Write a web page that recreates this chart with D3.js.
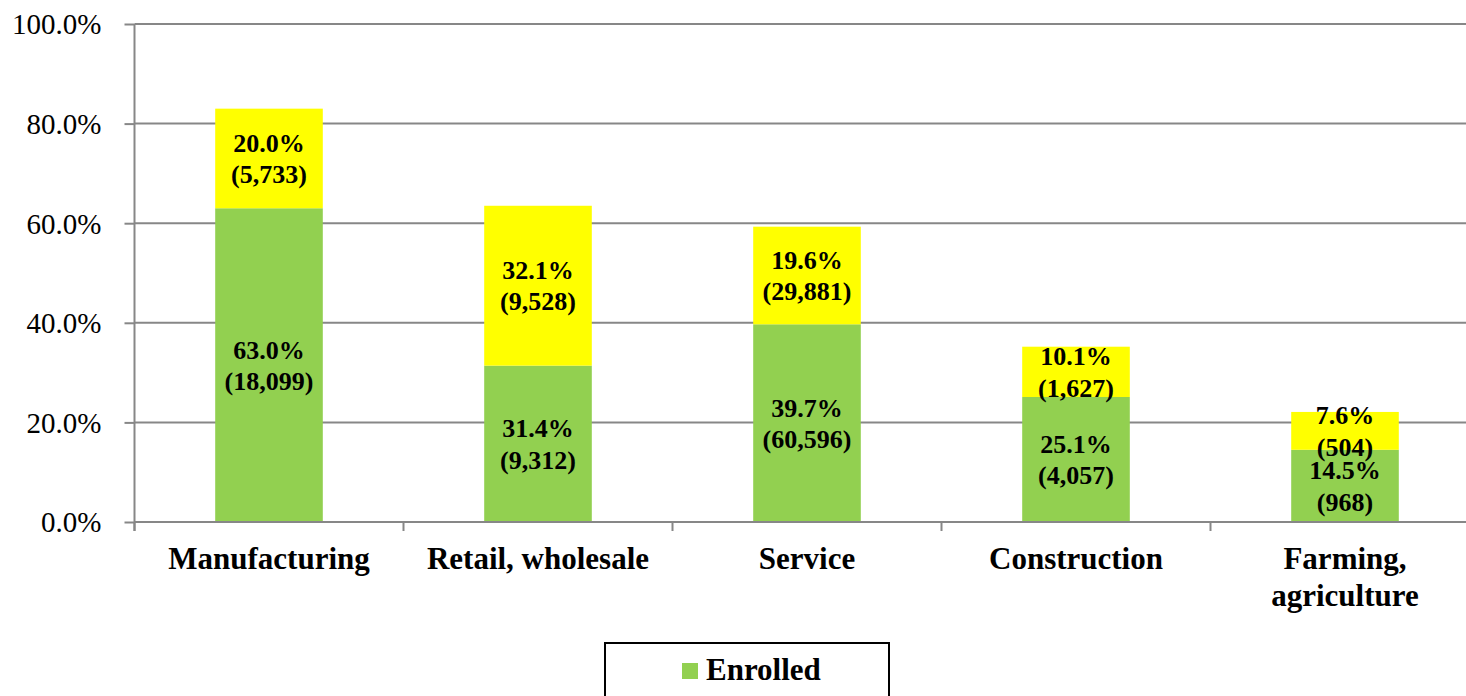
<!DOCTYPE html>
<html>
<head>
    <meta charset="UTF-8">
    <title>Enrolled by industry</title>
    <script src="https://d3js.org/d3.v7.min.js"></script>
    <style>
        body { margin: 0; background: #fff; }
        svg { display: block; font-family: "Liberation Serif", "Times New Roman", serif; }
    </style>
</head>
<body>
    <svg id="chart" width="1466" height="696"></svg>
    <script>
        // ---- data ----
        var categories = ["Manufacturing", "Retail, wholesale", "Service", "Construction", "Farming,\nagriculture"];
        var enrolledPct = [63.0, 31.4, 39.7, 25.1, 14.5];
        var enrolledCount = [18099, 9312, 60596, 4057, 968];
        var otherPct = [20.0, 32.1, 19.6, 10.1, 7.6];
        var otherCount = [5733, 9528, 29881, 1627, 504];
        var yTicks = [0, 20, 40, 60, 80, 100];
        var legendLabels = ["Enrolled"];

        var green = "#92D050", yellow = "#FFFF00", grid = "#878787";
        var serif = "Liberation Serif, Times New Roman, serif";

        var svg = d3.select("#chart");
        var plotLeft = 134.5, step = 269, plotTop = 24, plotBottom = 522;

        var x = d3.scaleBand()
            .domain(categories)
            .range([plotLeft, plotLeft + categories.length * step])
            .paddingInner(0.6)
            .paddingOuter(0.3);

        var y = d3.scaleLinear().domain([0, 100]).range([plotBottom, plotTop]);

        // gridlines
        svg.append("g")
            .selectAll("line")
            .data(yTicks.slice(1))
            .enter().append("line")
            .attr("x1", plotLeft).attr("x2", 1466)
            .attr("y1", function(d) { return y(d); })
            .attr("y2", function(d) { return y(d); })
            .attr("stroke", grid).attr("stroke-width", 2);

        // y axis
        var yAxis = svg.append("g")
            .attr("transform", "translate(" + plotLeft + ",0)")
            .call(d3.axisLeft(y).tickValues(yTicks).tickSize(10).tickPadding(23)
                .tickFormat(function(d) { return d.toFixed(1) + "%"; }));
        yAxis.attr("font-family", serif).attr("font-size", 29);
        yAxis.select(".domain").remove();
        yAxis.selectAll(".tick line").attr("stroke", grid).attr("stroke-width", 2);
        yAxis.selectAll("text").attr("fill", "#000").attr("dy", "0.34em");
        svg.append("line")
            .attr("x1", plotLeft).attr("x2", plotLeft)
            .attr("y1", plotTop).attr("y2", plotBottom + 9)
            .attr("stroke", grid).attr("stroke-width", 2);

        // stacks
        var rows = categories.map(function(c, i) {
            return { cat: c, segs: [
                { cat: c, y0: 0, y1: enrolledPct[i], pct: enrolledPct[i], n: enrolledCount[i], fill: green },
                { cat: c, y0: enrolledPct[i], y1: enrolledPct[i] + otherPct[i], pct: otherPct[i], n: otherCount[i], fill: yellow }
            ] };
        });

        var groups = svg.append("g").selectAll("g")
            .data(rows).enter().append("g");

        groups.selectAll("rect")
            .data(function(d) { return d.segs; })
            .enter().append("rect")
            .attr("x", function(d) { return x(d.cat); })
            .attr("width", x.bandwidth())
            .attr("y", function(d) { return y(d.y1); })
            .attr("height", function(d) { return y(d.y0) - y(d.y1); })
            .attr("fill", function(d) { return d.fill; });

        // x axis line and boundary ticks
        svg.append("line")
            .attr("x1", plotLeft).attr("x2", 1466)
            .attr("y1", plotBottom).attr("y2", plotBottom)
            .attr("stroke", grid).attr("stroke-width", 2);
        svg.append("g").selectAll("line")
            .data(d3.range(categories.length + 1))
            .enter().append("line")
            .attr("x1", function(i) { return plotLeft + i * x.step(); })
            .attr("x2", function(i) { return plotLeft + i * x.step(); })
            .attr("y1", plotBottom).attr("y2", plotBottom + 9)
            .attr("stroke", grid).attr("stroke-width", 2);

        // data labels
        var fmt = d3.format(",");
        groups.selectAll("text.lbl")
            .data(function(d) { return d.segs; })
            .enter().append("text")
            .attr("class", "lbl")
            .attr("text-anchor", "middle")
            .attr("font-size", 26).attr("font-weight", "bold")
            .attr("x", function(d) { return x(d.cat) + x.bandwidth() / 2; })
            .attr("y", function(d) { return (y(d.y0) + y(d.y1)) / 2; })
            .each(function(d) {
                var t = d3.select(this);
                t.append("tspan").attr("x", t.attr("x")).attr("dy", "-0.25em")
                    .text(d.pct.toFixed(1) + "%");
                t.append("tspan").attr("x", t.attr("x")).attr("dy", "1.2em")
                    .text("(" + fmt(d.n) + ")");
            });

        // category labels
        svg.append("g").selectAll("text")
            .data(categories).enter().append("text")
            .attr("text-anchor", "middle")
            .attr("font-size", 31).attr("font-weight", "bold")
            .attr("x", function(d) { return x(d) + x.bandwidth() / 2; })
            .attr("y", 569)
            .each(function(d) {
                var t = d3.select(this);
                d.split("\n").forEach(function(s, k) {
                    t.append("tspan").attr("x", t.attr("x")).attr("dy", k ? 37 : 0).text(s);
                });
            });

        // legend
        var lg = svg.append("g");
        lg.append("rect")
            .attr("x", 605).attr("y", 643)
            .attr("width", 284).attr("height", 80)
            .attr("fill", "none").attr("stroke", "#000").attr("stroke-width", 2);
        var li = lg.selectAll("g").data(legendLabels).enter().append("g");
        li.append("rect")
            .attr("x", 682).attr("y", 663).attr("width", 16).attr("height", 16)
            .attr("fill", green);
        li.append("text")
            .attr("x", 706).attr("y", 680)
            .attr("font-size", 31).attr("font-weight", "bold")
            .text(function(d) { return d; });
    </script>
</body>
</html>
